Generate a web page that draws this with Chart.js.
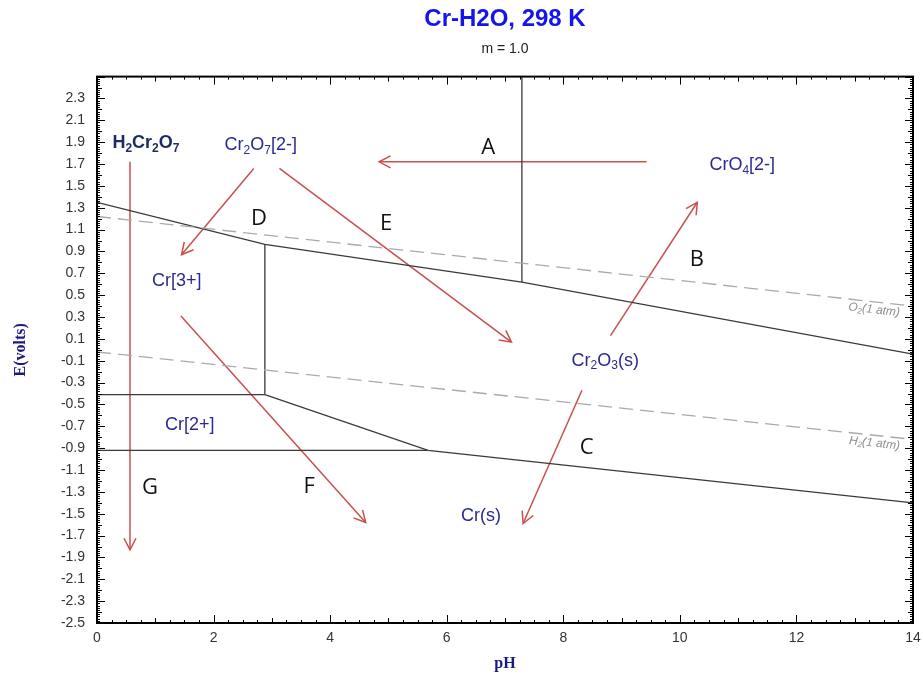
<!DOCTYPE html>
<html>
<head>
<meta charset="utf-8">
<title>Cr-H2O, 298 K</title>
<script src="https://cdn.jsdelivr.net/npm/chart.js@4.4.1/dist/chart.umd.min.js"></script>
<style>
  html, body { margin: 0; padding: 0; background: #fff; }
  #wrap { width: 923px; height: 679px; }
</style>
</head>
<body>
<div id="wrap"><canvas id="chart" width="923" height="679"></canvas></div>
<script>
// Stability boundaries, [pH, E(volts)]
const upperLine = [[0, 1.35], [2.88, 0.965], [7.29, 0.62], [14, -0.04]];
const chromateEdge = [[7.29, 0.62], [7.29, 2.5]];
const cr3Edge = [[2.88, 0.965], [2.88, -0.41]];
const cr3Cr2Line = [[0, -0.41], [2.88, -0.41]];
const lowerLine = [[2.88, -0.41], [5.68, -0.92], [14, -1.40]];
const cr2CrLine = [[0, -0.92], [5.68, -0.92]];

// Water stability lines
const o2Line = [[0, 1.22], [14, 0.40]];
const h2Line = [[0, -0.02], [14, -0.82]];
const waterNames = [['O', '2', '(1 atm)'], ['H', '2', '(1 atm)']];

// Red arrows, tail then head
const arrowA = [[9.43, 1.72], [4.84, 1.72]];
const arrowB = [[8.81, 0.13], [10.30, 1.35]];
const arrowC = [[8.32, -0.37], [7.31, -1.59]];
const arrowD = [[2.69, 1.66], [1.45, 0.87]];
const arrowE = [[3.13, 1.66], [7.11, 0.07]];
const arrowF = [[1.44, 0.31], [4.61, -1.58]];
const arrowG = [[0.566, 1.72], [0.566, -1.83]];

// Species names (text / subscript parts) and where they sit
const speciesParts = [
  [['H', 0], ['2', 1], ['Cr', 0], ['2', 1], ['O', 0], ['7', 1]],
  [['Cr', 0], ['2', 1], ['O', 0], ['7', 1], ['[2-]', 0]],
  [['CrO', 0], ['4', 1], ['[2-]', 0]],
  [['Cr[3+]', 0]],
  [['Cr', 0], ['2', 1], ['O', 0], ['3', 1], ['(s)', 0]],
  [['Cr[2+]', 0]],
  [['Cr(s)', 0]]
];
const speciesPH = [0.84, 2.81, 11.07, 1.37, 8.72, 1.59, 6.59];
const speciesE = [1.89, 1.87, 1.69, 0.63, -0.10, -0.69, -1.52];

// Reaction letters
const letters = ['A', 'B', 'C', 'D', 'E', 'F', 'G'];
const letterPH = [6.71, 10.29, 8.40, 2.78, 4.96, 3.64, 0.91];
const letterE = [1.85, 0.82, -0.90, 1.20, 1.15, -1.25, -1.26];

const xTickStep = 2;
const yTickStep = 0.2;

const toPoints = arr => arr.map(p => ({ x: p[0], y: p[1] }));

function boundary(arr) {
  return { data: toPoints(arr), borderColor: '#3a3a3a', borderWidth: 1.3 };
}
function waterLine(arr) {
  return { data: toPoints(arr), borderColor: '#aaaaaa', borderWidth: 1.3, borderDash: [14, 7] };
}
function arrow(arr) {
  return { data: toPoints(arr), borderColor: '#c9504c', borderWidth: 1.5, isArrow: true };
}

const datasets = [
  waterLine(o2Line), waterLine(h2Line),
  boundary(upperLine), boundary(chromateEdge), boundary(cr3Edge),
  boundary(cr3Cr2Line), boundary(lowerLine), boundary(cr2CrLine),
  arrow(arrowA), arrow(arrowB), arrow(arrowC), arrow(arrowD),
  arrow(arrowE), arrow(arrowF), arrow(arrowG)
].map(ds => Object.assign({ showLine: true, pointRadius: 0, fill: false, tension: 0 }, ds));

// draws text made of normal and subscript pieces, centred on (cx, cy)
function drawRich(ctx, parts, cx, cy, size, weight, color) {
  const subSize = Math.round(size * 0.68);
  const fontFor = sub => `${weight} ${sub ? subSize : size}px "Liberation Sans", Arial, sans-serif`;
  let total = 0;
  parts.forEach(([t, sub]) => { ctx.font = fontFor(sub); total += ctx.measureText(t).width; });
  let x = cx - total / 2;
  ctx.fillStyle = color;
  ctx.textAlign = 'left';
  ctx.textBaseline = 'middle';
  parts.forEach(([t, sub]) => {
    ctx.font = fontFor(sub);
    ctx.fillText(t, x, sub ? cy + size * 0.3 : cy);
    x += ctx.measureText(t).width;
  });
}

const framePlugin = {
  id: 'frameTicks',
  afterDatasetsDraw(chart) {
    const ctx = chart.ctx;
    const { left, right, top, bottom } = chart.chartArea;
    const xs = chart.scales.x, ys = chart.scales.y;
    ctx.save();
    ctx.strokeStyle = '#000';
    ctx.lineWidth = 1;
    ctx.beginPath();
    for (let i = 0; i <= 250; i++) {
      const y = Math.round(ys.getPixelForValue(-2.5 + i * 0.02)) + 0.5;
      const len = i % 10 === 0 ? 8 : (i % 5 === 0 ? 5 : 3);
      ctx.moveTo(left, y); ctx.lineTo(left + len, y);
      ctx.moveTo(right, y); ctx.lineTo(right - len, y);
    }
    for (let i = 0; i <= 56; i++) {
      const x = Math.round(xs.getPixelForValue(i * 0.25)) + 0.5;
      const len = i % 8 === 0 ? 8 : (i % 4 === 0 ? 5 : 3);
      ctx.moveTo(x, bottom); ctx.lineTo(x, bottom - len);
      ctx.moveTo(x, top); ctx.lineTo(x, top + len);
    }
    ctx.stroke();
    ctx.lineWidth = 2;
    ctx.strokeRect(left, top, right - left, bottom - top);
    ctx.restore();
  }
};

const annotationPlugin = {
  id: 'annotations',
  afterDatasetsDraw(chart) {
    const ctx = chart.ctx;
    const xs = chart.scales.x, ys = chart.scales.y;
    ctx.save();

    // arrow heads
    chart.data.datasets.forEach((ds, i) => {
      if (!ds.isArrow) return;
      const pts = chart.getDatasetMeta(i).data;
      const a = pts[pts.length - 2], b = pts[pts.length - 1];
      const ang = Math.atan2(b.y - a.y, b.x - a.x);
      const len = 13, spread = Math.PI / 6.5;
      ctx.strokeStyle = ds.borderColor;
      ctx.lineWidth = 1.5;
      ctx.beginPath();
      ctx.moveTo(b.x - len * Math.cos(ang - spread), b.y - len * Math.sin(ang - spread));
      ctx.lineTo(b.x, b.y);
      ctx.lineTo(b.x - len * Math.cos(ang + spread), b.y - len * Math.sin(ang + spread));
      ctx.stroke();
    });

    // O2 / H2 line labels, turned along their lines
    [o2Line, h2Line].forEach((line, k) => {
      const x0 = xs.getPixelForValue(line[0][0]), y0 = ys.getPixelForValue(line[0][1]);
      const x1 = xs.getPixelForValue(line[1][0]), y1 = ys.getPixelForValue(line[1][1]);
      const ang = Math.atan2(y1 - y0, x1 - x0);
      const t = 0.985;
      const px = x0 + (x1 - x0) * t, py = y0 + (y1 - y0) * t;
      ctx.save();
      ctx.translate(px, py);
      ctx.rotate(ang);
      const [a, sub, rest] = waterNames[k];
      ctx.fillStyle = '#8f8f8f';
      ctx.textBaseline = 'middle';
      ctx.textAlign = 'left';
      ctx.font = 'italic 12px "Liberation Sans", Arial, sans-serif';
      const wA = ctx.measureText(a).width, wR = ctx.measureText(rest).width;
      ctx.font = 'italic 8px "Liberation Sans", Arial, sans-serif';
      const wS = ctx.measureText(sub).width;
      let x = -(wA + wS + wR);
      ctx.font = 'italic 12px "Liberation Sans", Arial, sans-serif';
      ctx.fillText(a, x, 8); x += wA;
      ctx.font = 'italic 8px "Liberation Sans", Arial, sans-serif';
      ctx.fillText(sub, x, 11); x += wS;
      ctx.font = 'italic 12px "Liberation Sans", Arial, sans-serif';
      ctx.fillText(rest, x, 8);
      ctx.restore();
    });

    // species names
    speciesParts.forEach((parts, i) => {
      const cx = xs.getPixelForValue(speciesPH[i]);
      const cy = ys.getPixelForValue(speciesE[i]);
      if (i === 0) drawRich(ctx, parts, cx, cy, 18, 'bold', '#1d2d62');
      else drawRich(ctx, parts, cx, cy, 18, 'normal', '#2a2a92');
    });

    // reaction letters
    ctx.fillStyle = '#111';
    ctx.font = '22px "Open Sans", "Noto Sans", sans-serif';
    ctx.textAlign = 'center';
    ctx.textBaseline = 'middle';
    letters.forEach((l, i) => {
      ctx.fillText(l, xs.getPixelForValue(letterPH[i]), ys.getPixelForValue(letterE[i]));
    });
    ctx.restore();
  }
};

new Chart(document.getElementById('chart'), {
  type: 'scatter',
  data: { datasets },
  options: {
    responsive: false,
    animation: false,
    devicePixelRatio: 1,
    layout: { padding: { left: 0, right: 10, top: 0, bottom: 6 } },
    plugins: {
      legend: { display: false },
      tooltip: { enabled: false },
      title: {
        display: true,
        text: 'Cr-H2O, 298 K',
        color: '#1414ee',
        fullSize: false,
        font: { family: '"Liberation Sans", Arial, sans-serif', size: 24, weight: 'bold' },
        padding: { top: 5, bottom: 4 }
      },
      subtitle: {
        display: true,
        text: 'm = 1.0',
        color: '#222',
        fullSize: false,
        font: { family: '"Liberation Sans", Arial, sans-serif', size: 14 },
        padding: { top: 3, bottom: 19 }
      }
    },
    scales: {
      x: {
        type: 'linear',
        min: 0,
        max: 14,
        grid: { display: false, drawTicks: false },
        border: { display: false },
        afterFit(scale) { scale.paddingLeft = 0; scale.paddingRight = 0; },
        ticks: {
          stepSize: xTickStep,
          color: '#333',
          padding: 7,
          font: { family: '"Liberation Sans", Arial, sans-serif', size: 14 }
        },
        title: {
          display: true,
          text: 'pH',
          color: '#1a1a80',
          font: { family: '"Liberation Serif", "Times New Roman", serif', size: 16, weight: 'bold' },
          padding: { top: 0, bottom: 0 }
        }
      },
      y: {
        type: 'linear',
        min: -2.5,
        max: 2.5,
        grid: { display: false, drawTicks: false },
        border: { display: false },
        afterFit(scale) { scale.width = 97; },
        ticks: {
          stepSize: yTickStep,
          color: '#333',
          padding: 12,
          font: { family: '"Liberation Sans", Arial, sans-serif', size: 14 },
          callback: v => (v > 2.4 ? '' : Number(v).toFixed(1))
        },
        title: {
          display: true,
          text: 'E(volts)',
          color: '#1a1a80',
          font: { family: '"Liberation Serif", "Times New Roman", serif', size: 16, weight: 'bold' },
          padding: { top: 11, bottom: 0 }
        }
      }
    }
  },
  plugins: [framePlugin, annotationPlugin]
});
</script>
</body>
</html>
